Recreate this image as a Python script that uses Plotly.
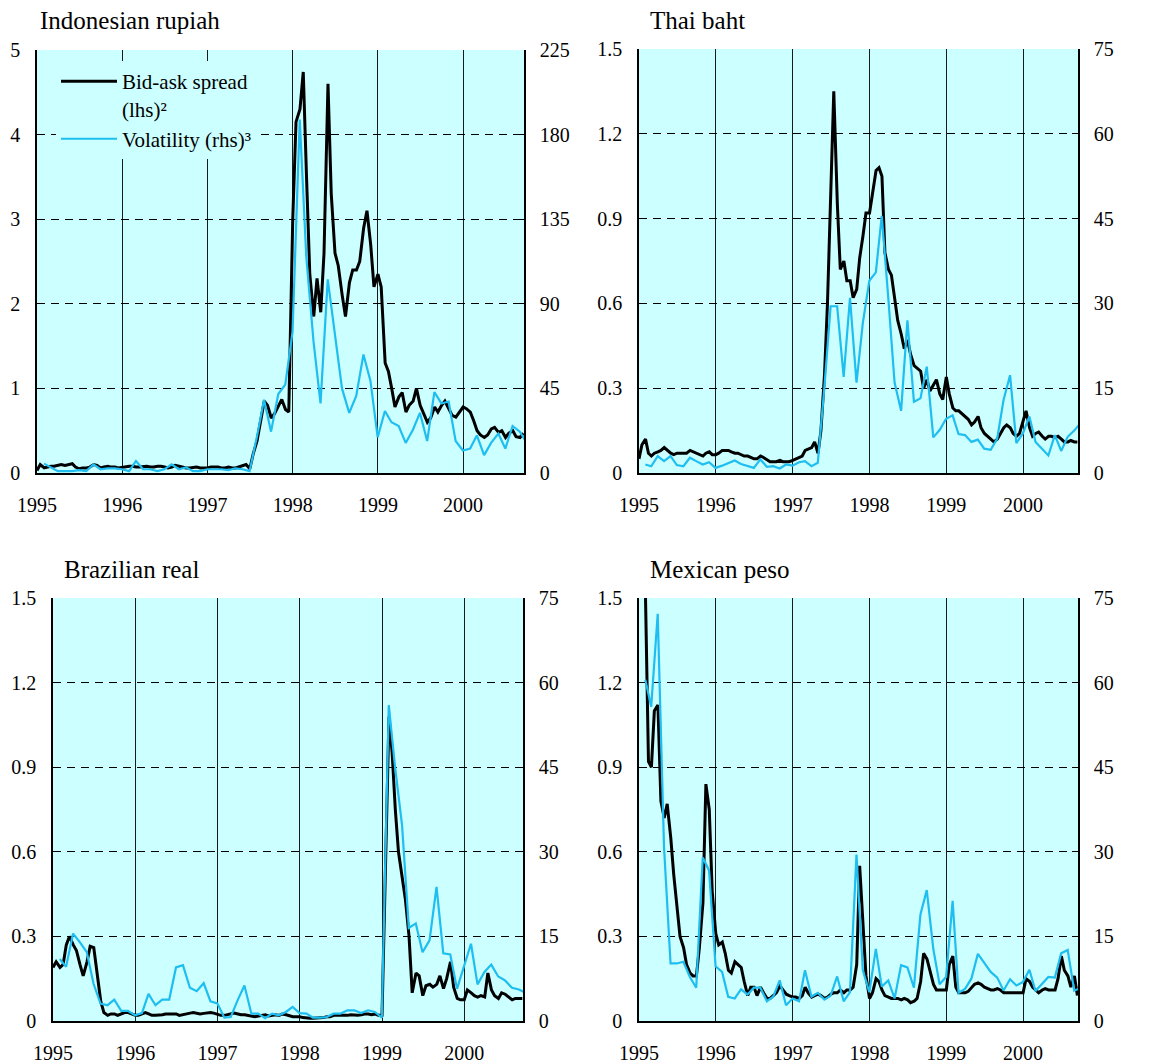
import pandas as pd
import plotly.graph_objects as go

FONT = "Liberation Serif, Times New Roman, serif"
BG = "#ccffff"
BLACK = "#000000"
CYAN = "#1ebef0"
W, H = 1162, 1063

# Dates: bid-ask spreads read semi-monthly, volatility monthly (month end)
half_month = pd.date_range("1995-01-01", periods=138, freq="SMS")
month_end = pd.date_range("1995-01-01", periods=69, freq="MS") + pd.offsets.MonthEnd(0)

year_ticks = ["1995-01-01", "1996-01-01", "1997-01-01", "1998-01-01", "1999-01-01", "2000-01-01"]
year_labels = ["1995", "1996", "1997", "1998", "1999", "2000"]

# ---------------- Indonesian rupiah ----------------
idr_spread = (
    [0.03, 0.10, 0.06, 0.07, 0.08, 0.08, 0.09, 0.10, 0.09, 0.10, 0.11, 0.07, 0.05, 0.06, 0.06, 0.07, 0.10, 0.09, 0.06, 0.07, 0.08, 0.07, 0.07, 0.06]
    + [0.07, 0.07, 0.08, 0.08, 0.07, 0.07, 0.08, 0.08, 0.07, 0.07, 0.08, 0.08, 0.07, 0.06, 0.07, 0.09, 0.08, 0.07, 0.06, 0.06, 0.07, 0.07, 0.06, 0.06]
    + [0.06, 0.07, 0.07, 0.07, 0.06, 0.06, 0.07, 0.06, 0.06, 0.07, 0.09, 0.10, 0.05, 0.22, 0.38, 0.60, 0.85, 0.80, 0.65, 0.70, 0.80, 0.87, 0.75, 0.72]
    + [3.00, 4.15, 4.30, 4.74, 3.50, 2.35, 1.85, 2.30, 1.90, 2.60, 4.60, 3.30, 2.60, 2.45, 2.10, 1.85, 2.25, 2.40, 2.40, 2.50, 2.90, 3.10, 2.70, 2.20]
    + [2.35, 2.20, 1.30, 1.20, 1.00, 0.78, 0.90, 0.95, 0.72, 0.80, 0.85, 1.00, 0.80, 0.70, 0.60, 0.65, 0.78, 0.72, 0.80, 0.85, 0.75, 0.68, 0.66, 0.72]
    + [0.78, 0.76, 0.72, 0.62, 0.50, 0.45, 0.42, 0.45, 0.52, 0.54, 0.48, 0.50, 0.42, 0.47, 0.50, 0.43, 0.42, 0.47]
)
idr_vol = (
    [5, 3, 1, 1, 1, 1.5, 1, 4.6, 2, 2.5, 2.5, 2]
    + [1, 6.4, 2, 2, 1, 2, 4.6, 2, 3, 1, 1, 2]
    + [2, 2, 1.5, 2.5, 2, 1, 19, 39, 22, 42, 47, 75]
    + [188, 115, 70, 37, 103, 74, 45, 32, 41, 63, 49, 19]
    + [33, 27, 25, 16, 23, 32, 17, 43, 37, 38, 17, 12]
    + [13, 20, 9.5, 16, 21, 13, 25, 22, 16]
)

# ---------------- Thai baht ----------------
thb_spread = (
    [0.05, 0.10, 0.12, 0.07, 0.06, 0.07, 0.075, 0.08, 0.09, 0.08, 0.07, 0.065, 0.07, 0.07, 0.07, 0.07, 0.08, 0.075, 0.07, 0.065, 0.06, 0.07, 0.075, 0.065]
    + [0.065, 0.07, 0.08, 0.08, 0.08, 0.075, 0.07, 0.07, 0.065, 0.06, 0.06, 0.055, 0.05, 0.05, 0.06, 0.055, 0.045, 0.04, 0.04, 0.04, 0.045, 0.04, 0.04, 0.04]
    + [0.045, 0.05, 0.055, 0.06, 0.08, 0.085, 0.09, 0.11, 0.07, 0.15, 0.35, 0.60, 1.00, 1.35, 0.95, 0.72, 0.75, 0.68, 0.68, 0.62, 0.65, 0.76, 0.84, 0.92]
    + [0.92, 0.99, 1.07, 1.08, 1.05, 0.78, 0.72, 0.70, 0.62, 0.54, 0.49, 0.44, 0.47, 0.42, 0.38, 0.37, 0.36, 0.30, 0.33, 0.29, 0.31, 0.33, 0.28, 0.26]
    + [0.34, 0.28, 0.23, 0.22, 0.22, 0.21, 0.20, 0.19, 0.17, 0.18, 0.20, 0.16, 0.14, 0.13, 0.12, 0.11, 0.12, 0.14, 0.16, 0.17, 0.16, 0.14, 0.13, 0.14]
    + [0.18, 0.22, 0.16, 0.13, 0.14, 0.145, 0.13, 0.12, 0.13, 0.13, 0.125, 0.13, 0.12, 0.11, 0.11, 0.115, 0.11, 0.11]
)
thb_vol = (
    [1.5, 1.2, 3, 2.1, 3, 1.4, 1.2, 2.7, 2.1, 1.5, 1.9, 0.9]
    + [1.3, 1.8, 2.2, 1.6, 1.3, 0.9, 2.4, 1.1, 1.2, 0.8, 1.5, 1.3]
    + [1.9, 2.1, 1.2, 1.8, 15, 29.5, 29.5, 17, 31, 16, 26.5, 34]
    + [35.5, 45.5, 31, 16, 11, 27, 12.6, 13.2, 18.8, 6.3, 7.6, 9.6]
    + [10.2, 6.9, 6.7, 5.5, 5.9, 4.3, 4.1, 6.1, 12.9, 17.3, 5.3, 7]
    + [10, 5.5, 4.3, 3.1, 6.7, 3.9, 6.4, 7.5, 8.8]
)

# ---------------- Brazilian real ----------------
brl_spread = (
    [0.19, 0.21, 0.19, 0.20, 0.27, 0.30, 0.27, 0.25, 0.20, 0.16, 0.21, 0.265, 0.26, 0.17, 0.07, 0.03, 0.02, 0.025, 0.025, 0.02, 0.025, 0.03, 0.03, 0.025]
    + [0.02, 0.02, 0.025, 0.03, 0.025, 0.02, 0.02, 0.02, 0.022, 0.025, 0.025, 0.027, 0.025, 0.02, 0.022, 0.025, 0.028, 0.03, 0.028, 0.025, 0.027, 0.028, 0.03, 0.028]
    + [0.025, 0.02, 0.02, 0.022, 0.025, 0.028, 0.025, 0.022, 0.022, 0.02, 0.018, 0.015, 0.018, 0.02, 0.022, 0.018, 0.02, 0.022, 0.02, 0.025, 0.022, 0.018, 0.015, 0.015]
    + [0.015, 0.012, 0.01, 0.01, 0.01, 0.01, 0.01, 0.012, 0.015, 0.015, 0.02, 0.02, 0.018, 0.02, 0.02, 0.022, 0.02, 0.02, 0.022, 0.025, 0.025, 0.022, 0.025, 0.02]
    + [0.02, 0.50, 1.08, 0.95, 0.75, 0.60, 0.50, 0.43, 0.30, 0.10, 0.17, 0.16, 0.09, 0.125, 0.13, 0.12, 0.13, 0.16, 0.115, 0.15, 0.21, 0.12, 0.08, 0.075]
    + [0.075, 0.11, 0.10, 0.09, 0.085, 0.09, 0.085, 0.17, 0.11, 0.09, 0.08, 0.10, 0.095, 0.085, 0.075, 0.08, 0.08, 0.08]
)
brl_vol = (
    [11, 9.6, 15.5, 14, 12.2, 6.6, 3.1, 2.8, 3.8, 1.8, 1.8, 1.0]
    + [1.4, 4.8, 2.8, 3.8, 3.8, 9.5, 9.9, 5.9, 5.3, 6.7, 3.5, 3.1]
    + [0.6, 0.7, 3.7, 6.3, 1.3, 1.3, 0.5, 1.3, 1.0, 1.6, 2.5, 1.4]
    + [1.3, 0.6, 0.6, 0.7, 1.3, 1.3, 1.9, 1.9, 1.4, 1.9, 1.6, 0.6]
    + [56, 45, 34.7, 16.5, 17.3, 12.2, 14.3, 23.8, 12, 11.8, 5.7, 9.6]
    + [13.7, 6.5, 8.7, 10, 7.9, 7.2, 5.9, 5.6, 5.0]
)

# ---------------- Mexican peso ----------------
mxn_spread = (
    [1.90, 1.70, 1.50, 0.92, 0.90, 1.10, 1.12, 0.78, 0.72, 0.77, 0.65, 0.52, 0.41, 0.30, 0.26, 0.20, 0.17, 0.16, 0.16, 0.26, 0.42, 0.84, 0.75, 0.46]
    + [0.31, 0.27, 0.28, 0.24, 0.18, 0.17, 0.21, 0.20, 0.19, 0.14, 0.09, 0.12, 0.12, 0.09, 0.12, 0.10, 0.08, 0.08, 0.09, 0.10, 0.125, 0.11, 0.095, 0.09]
    + [0.085, 0.085, 0.08, 0.09, 0.12, 0.10, 0.085, 0.09, 0.095, 0.09, 0.08, 0.085, 0.095, 0.10, 0.10, 0.11, 0.10, 0.11, 0.11, 0.12, 0.20, 0.55, 0.35, 0.16]
    + [0.08, 0.10, 0.15, 0.14, 0.11, 0.09, 0.085, 0.08, 0.08, 0.08, 0.075, 0.08, 0.075, 0.065, 0.07, 0.08, 0.14, 0.24, 0.22, 0.18, 0.13, 0.11, 0.11, 0.11]
    + [0.11, 0.20, 0.23, 0.12, 0.10, 0.10, 0.10, 0.105, 0.12, 0.13, 0.135, 0.13, 0.12, 0.115, 0.11, 0.11, 0.115, 0.11, 0.10, 0.10, 0.10, 0.10, 0.10, 0.10]
    + [0.10, 0.15, 0.14, 0.12, 0.11, 0.10, 0.11, 0.115, 0.11, 0.11, 0.11, 0.15, 0.23, 0.18, 0.16, 0.12, 0.16, 0.09]
)
mxn_vol = (
    [60.5, 55.7, 72.2, 30.8, 10.2, 10.2, 10.5, 7.8, 5.9, 29, 26.7, 9.7]
    + [8.7, 4.3, 4, 5.6, 4.7, 5.9, 5.9, 3.5, 4.3, 7.2, 2.8, 4]
    + [3.5, 9, 4.3, 5, 3.8, 4.5, 7.9, 3.5, 5.1, 29.5, 9, 5.1]
    + [12.8, 6.1, 7.2, 4, 9.9, 9.5, 5.9, 18.9, 23.2, 12.8, 6.5, 7.8]
    + [21.3, 5, 5.7, 7.5, 11.9, 10.3, 8.7, 7.7, 5.4, 7.4, 6.3, 6.9]
    + [9.1, 5.3, 6.5, 7.8, 7.7, 12, 12.6, 5.4, 5.8]
)

titles = ["Indonesian rupiah", "Thai baht", "Brazilian real", "Mexican peso"]
spreads = [idr_spread, thb_spread, brl_spread, mxn_spread]
vols = [idr_vol, thb_vol, brl_vol, mxn_vol]

left_ticks_idr = [0, 1, 2, 3, 4, 5]
left_labels_idr = ["0", "1", "2", "3", "4", "5"]
right_ticks_idr = [0, 45, 90, 135, 180, 225]
left_ticks_std = [0, 0.3, 0.6, 0.9, 1.2, 1.5]
left_labels_std = ["0", "0.3", "0.6", "0.9", "1.2", "1.5"]
right_ticks_std = [0, 15, 30, 45, 60, 75]

# layout geometry in pixels (left, right, top, bottom) of each plot area
boxes = [(37, 524, 50, 473), (639, 1078, 49, 473), (53, 523, 598, 1021), (639, 1078, 598, 1021)]
title_pos = [(38, 21), (648, 21), (62, 569), (648, 569)]

fig = go.Figure()
layout = dict(
    width=W, height=H, margin=dict(l=0, r=0, t=0, b=0, pad=0, autoexpand=False),
    paper_bgcolor="white", plot_bgcolor=BG,
    font=dict(family=FONT, size=20, color="black"),
    showlegend=True,
    legend=dict(x=56 / W, y=1 - 61 / H, xanchor="left", yanchor="top",
                bgcolor=BG, font=dict(family=FONT, size=21, color="black"),
                valign="top", tracegroupgap=0, itemwidth=56),
    annotations=[],
)

for p in range(4):
    xl, xr, yt, yb = boxes[p]
    xid = "x" if p == 0 else f"x{p + 1}"
    yl = "y" if p == 0 else f"y{2 * p + 1}"
    yr = f"y{2 * p + 2}"
    xkey = "xaxis" if p == 0 else f"xaxis{p + 1}"
    ylkey = "yaxis" if p == 0 else f"yaxis{2 * p + 1}"
    yrkey = f"yaxis{2 * p + 2}"
    is_idr = p == 0
    lticks = left_ticks_idr if is_idr else left_ticks_std
    llabels = left_labels_idr if is_idr else left_labels_std
    rticks = right_ticks_idr if is_idr else right_ticks_std

    layout[xkey] = dict(
        domain=[xl / W, xr / W], anchor=yl, type="date",
        range=["1995-01-01", "2000-09-18"],
        tickvals=year_ticks, ticktext=year_labels,
        showgrid=True, gridcolor="#1a1a1a", gridwidth=1,
        showline=True, linecolor=BLACK, linewidth=2,
        ticks="", ticklabelstandoff=13, automargin=False,
        tickfont=dict(family=FONT, size=20, color="black"),
        fixedrange=True,
    )
    layout[ylkey] = dict(
        domain=[1 - yb / H, 1 - yt / H], anchor=xid,
        range=[0, lticks[-1]], tickvals=lticks, ticktext=llabels,
        showgrid=True, gridcolor=BLACK, gridwidth=1, griddash="8px,6px",
        showline=True, linecolor=BLACK, linewidth=1.5,
        ticks="inside", ticklen=6, tickcolor=BLACK,
        ticklabelstandoff=11, zeroline=False, automargin=False,
        tickfont=dict(family=FONT, size=20, color="black"),
        fixedrange=True,
    )
    layout[yrkey] = dict(
        overlaying=yl, side="right", anchor=xid,
        range=[0, rticks[-1]], tickvals=rticks,
        ticktext=[str(v) for v in rticks],
        showgrid=False, showline=True, linecolor=BLACK, linewidth=1.5,
        ticks="inside", ticklen=6, tickcolor=BLACK,
        ticklabelstandoff=10, zeroline=False, automargin=False,
        tickfont=dict(family=FONT, size=20, color="black"),
        fixedrange=True,
    )

    fig.add_trace(go.Scatter(
        x=half_month, y=spreads[p], mode="lines",
        line=dict(color=BLACK, width=3),
        name="Bid-ask spread<br>(lhs)²", legendrank=1,
        showlegend=is_idr, xaxis=xid, yaxis=yl,
    ))
    fig.add_trace(go.Scatter(
        x=month_end, y=vols[p], mode="lines",
        line=dict(color=CYAN, width=2.2),
        name="Volatility (rhs)³", legendrank=2,
        showlegend=is_idr, xaxis=xid, yaxis=yr,
    ))

    tx, ty = title_pos[p]
    layout["annotations"].append(dict(
        text=titles[p], xref="paper", yref="paper",
        x=tx / W, y=1 - ty / H, xanchor="left", yanchor="middle",
        showarrow=False, font=dict(family=FONT, size=25, color="black"),
    ))

fig.update_layout(**layout)
fig.write_html("out.html", post_script="document.body.style.margin='0px';",
               config={"displayModeBar": False})
